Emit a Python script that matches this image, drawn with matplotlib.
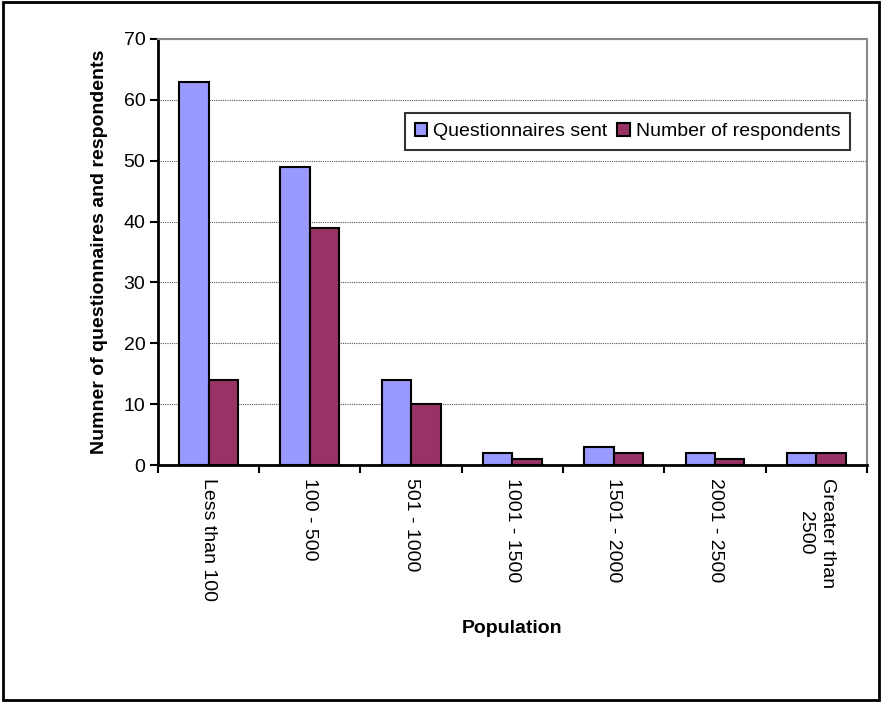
import numpy as np
import matplotlib.pyplot as plt
from matplotlib.patches import Rectangle

plt.rcParams['font.family'] = ['Liberation Sans', 'DejaVu Sans']

# Survey counts by population band
categories = ['Less than 100', '100 - 500', '501 - 1000', '1001 - 1500',
              '1501 - 2000', '2001 - 2500', 'Greater than\n2500']
sent = [63, 49, 14, 2, 3, 2, 2]
respondents = [14, 39, 10, 1, 2, 1, 2]

fig = plt.figure(figsize=(8.82, 7.02), dpi=100)
ax = fig.add_axes([0.179, 0.3376, 0.804, 0.607])

x = np.arange(len(categories))
w = 0.29
ax.bar(x - w / 2, sent, w, color='#9999FF', edgecolor='black', linewidth=1.5,
       label='Questionnaires sent', zorder=3)
ax.bar(x + w / 2, respondents, w, color='#993366', edgecolor='black', linewidth=1.5,
       label='Number of respondents', zorder=3)

ax.set_xlim(-0.5, len(categories) - 0.5)
ax.set_ylim(0, 70)
ax.set_yticks(np.arange(0, 71, 10))
ax.yaxis.grid(True, linestyle=(0, (1, 1)), color='#555555', linewidth=0.8, zorder=0)

# category boundaries carry the ticks, labels sit in the middle
ax.set_xticks(np.arange(-0.5, len(categories), 1))
ax.set_xticklabels([])
ax.set_xticks(x, minor=True)
ax.set_xticklabels(categories, minor=True, rotation=-90, va='top', ha='center',
                   fontsize=14, linespacing=1.35)
ax.tick_params(axis='x', which='minor', length=0, pad=9)
ax.tick_params(axis='x', which='major', direction='out', length=6, width=1.5)
ax.tick_params(axis='y', direction='out', length=6, width=1.5, labelsize=14, pad=3)

for side in ['left', 'bottom']:
    ax.spines[side].set_linewidth(2)
    ax.spines[side].set_color('black')
for side in ['top', 'right']:
    ax.spines[side].set_linewidth(1.5)
    ax.spines[side].set_color('#888888')

ax.set_ylabel('Numner of questionnaires and respondents', fontsize=14, fontweight='bold')
ax.yaxis.set_label_coords(-0.07, 0.5)
ax.set_xlabel('Population', fontsize=14, fontweight='bold')
ax.xaxis.set_label_coords(0.5, -0.364)

leg = ax.legend(loc='upper right', bbox_to_anchor=(0.976, 0.826), ncol=2, fontsize=14,
                frameon=True, fancybox=False, borderpad=0.5, handlelength=0.65,
                handleheight=0.65, handletextpad=0.3, columnspacing=0.5,
                borderaxespad=0)
leg.get_frame().set_edgecolor('black')
leg.get_frame().set_linewidth(1.5)

fig.add_artist(Rectangle((0.003, 0.003), 0.994, 0.994, transform=fig.transFigure,
                         fill=False, edgecolor='black', linewidth=2))

fig.savefig('out.png', dpi=100)
